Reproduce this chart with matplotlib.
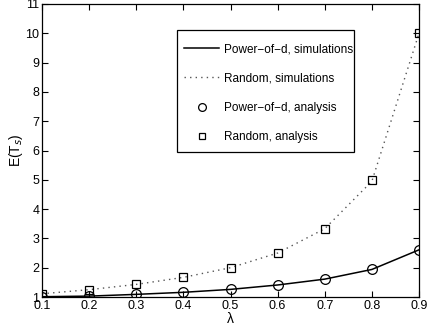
import matplotlib
matplotlib.use("Agg")
import matplotlib.pyplot as plt
from matplotlib.patches import Rectangle

plt.rcParams['font.family'] = ['Liberation Sans', 'DejaVu Sans']

# data
lam = [0.1, 0.2, 0.3, 0.4, 0.5, 0.6, 0.7, 0.8, 0.9]
pod_sim = [1.01, 1.03, 1.09, 1.16, 1.26, 1.41, 1.61, 1.94, 2.61]
rnd_sim = [1.11, 1.25, 1.43, 1.67, 2.0, 2.5, 3.33, 4.95, 10.0]
pod_ana = [1.01, 1.03, 1.09, 1.16, 1.26, 1.41, 1.61, 1.94, 2.61]
rnd_ana = [1.11, 1.25, 1.43, 1.67, 2.0, 2.5, 3.33, 5.0, 10.0]

xticks = [0.1, 0.2, 0.3, 0.4, 0.5, 0.6, 0.7, 0.8, 0.9]
yticks = list(range(1, 12))

W, H = 430, 332
AX_L, AX_T, AX_R, AX_B = 42, 4, 419, 297
fig = plt.figure(figsize=(4.3, 3.32), dpi=100)
ax = fig.add_axes([AX_L / W, 1 - AX_B / H, (AX_R - AX_L) / W, (AX_B - AX_T) / H])


def axfrac(px, py):
    # pixel position -> axes fraction
    return (px - AX_L) / (AX_R - AX_L), (AX_B - py) / (AX_B - AX_T)


ax.plot(lam, pod_sim, color='black', lw=1.1, label='Power\u2212of\u2212d, simulations')
ax.plot(lam, rnd_sim, color='#555555', lw=1.0, linestyle=(0, (1, 3)), label='Random, simulations')
ax.plot(lam, pod_ana, 'o', mfc='none', mec='black', ms=7, mew=0.9, label='Power\u2212of\u2212d, analysis')
ax.plot(lam, rnd_ana, 's', mfc='none', mec='black', ms=6, mew=0.9, label='Random, analysis')

ax.set_xlim(0.1, 0.9)
ax.set_ylim(1, 11)
ax.set_xticks(xticks)
ax.set_xticklabels([f"{t:g}" for t in xticks])
ax.set_yticks(yticks)
ax.tick_params(direction='in', top=True, right=True, labelsize=9, length=4, width=0.8, pad=2)
for s in ax.spines.values():
    s.set_linewidth(0.9)

ax.set_xlabel('\u03bb', fontsize=10, labelpad=0)
ax.set_ylabel('E(T$_s$)', fontsize=10, labelpad=0)

# legend box drawn by hand, entries placed inside it
x0, y0 = axfrac(177, 152)
x1, y1 = axfrac(354, 30)
ax.add_patch(Rectangle((x0, y0), x1 - x0, y1 - y0, transform=ax.transAxes,
                       facecolor='white', edgecolor='black', lw=0.9, zorder=4))
leg = ax.legend(loc='upper left', bbox_to_anchor=axfrac(184, 43),
                borderaxespad=0, fontsize=8.5, frameon=False,
                borderpad=0, labelspacing=1.48, handlelength=3.0, handletextpad=0.4,
                markerscale=0.8)
leg.set_zorder(5)

fig.savefig('out.png', dpi=100)
